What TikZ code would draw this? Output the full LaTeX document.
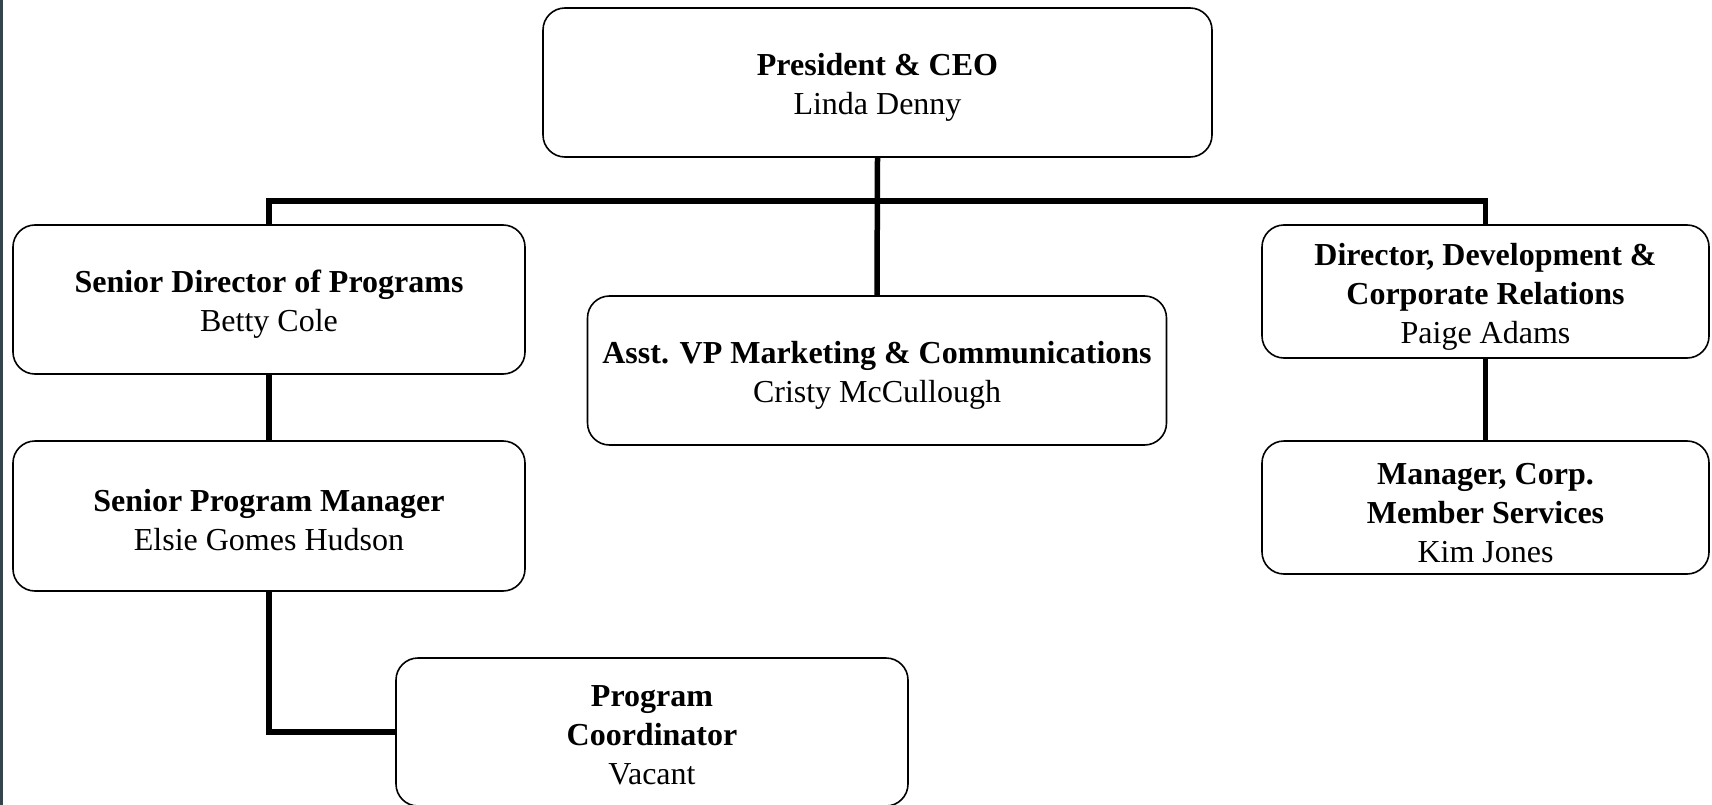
\documentclass[tikz,border=0pt]{standalone}
\usepackage{fontspec}
\setmainfont{Liberation Serif}
\usetikzlibrary{positioning}

\definecolor{edgegray}{HTML}{34434C}

\tikzset{
  post/.style={draw, line width=1.6pt, rounded corners=22pt, fill=white,
    align=center, inner sep=0pt, font=\fontsize{32}{39}\selectfont},
  two/.style={post, text height=70pt},
  three/.style={post, text height=111pt},
  link/.style={line width=5.5pt},
}

\begin{document}
\begin{tikzpicture}[x=1pt,y=1pt]
    \useasboundingbox (0,0) rectangle (1712,-805);
    \fill [edgegray] (0,0) rectangle (3,-805);

    \node[two, minimum width=669pt, minimum height=149pt] (ceo) at (877.5,-82.5)
        {\textbf{President \& CEO}\\Linda Denny};
    \node[two, minimum width=512pt, minimum height=149pt] (sdp) at (269,-299.5)
        {\textbf{Senior Director of Programs}\\Betty Cole};
    \node[two, minimum width=579pt, minimum height=149pt] (vp) at (877,-370.5)
        {\textbf{Asst. VP Marketing \& Communications}\\Cristy McCullough};
    \node[three, minimum width=447pt, minimum height=133pt] (dev) at (1485.5,-291.5)
        {\textbf{Director, Development \&}\\\textbf{Corporate Relations}\\Paige Adams};
    \node[two, minimum width=512pt, minimum height=150pt] (spm) at (269,-516)
        {\textbf{Senior Program Manager}\\Elsie Gomes Hudson};
    \node[three, minimum width=447pt, minimum height=133pt] (mgr) at (1485.5,-507.5)
        {\textbf{Manager, Corp.}\\\textbf{Member Services}\\Kim Jones};
    \node[three, text height=105pt, minimum width=512pt, minimum height=148pt] (pc) at (652,-732)
        {\textbf{Program}\\\textbf{Coordinator}\\Vacant};

    \coordinate (bus) at (877,-201);

    \draw [link] (ceo.south) -- (vp.north);
    \draw [link] (sdp.north) |- (bus) -| (dev.north);
    \draw [link] (sdp.south) -- (spm.north);
    \draw [link] (dev.south) -- (mgr.north);
    \draw [link] (spm.south) |- (pc.west);

\end{tikzpicture}
\end{document}
